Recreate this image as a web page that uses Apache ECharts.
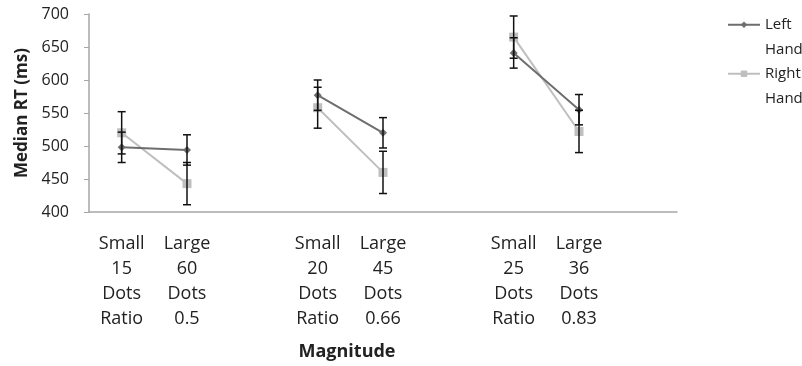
<!DOCTYPE html>
<html>
<head>
<meta charset="utf-8">
<script src="https://cdn.jsdelivr.net/npm/echarts@6/dist/echarts.min.js"></script>
<style>html,body{margin:0;padding:0;background:#fff}#c{width:802px;height:366px}</style>
</head>
<body>
<div id="c"></div>
<script>
var categories = ['Small\n15\nDots\nRatio', 'Large\n60\nDots\n0.5', '',
                  'Small\n20\nDots\nRatio', 'Large\n45\nDots\n0.66', '',
                  'Small\n25\nDots\nRatio', 'Large\n36\nDots\n0.83', ''];
var leftHand  = [498, 494, null, 577, 520, null, 641, 555, null];
var leftErr   = [23, 23, null, 23, 23, null, 23, 23, null];
var rightHand = [520, 443, null, 558, 460, null, 665, 522, null];
var rightErr  = [32, 32, null, 31, 32, null, 32, 32, null];
var yTicks = [400, 450, 500, 550, 600, 650, 700];

function errData(vals, errs) {
  var out = [];
  for (var i = 0; i < vals.length; i++) {
    if (vals[i] != null) out.push([i, vals[i] - errs[i], vals[i] + errs[i]]);
  }
  return out;
}
function renderErr(params, api) {
  var x = api.value(0);
  var lo = api.coord([x, api.value(1)]);
  var hi = api.coord([x, api.value(2)]);
  var w = 4;
  var st = { stroke: '#111', lineWidth: 1.5 };
  return {
    type: 'group',
    children: [
      { type: 'line', shape: { x1: lo[0], y1: lo[1], x2: hi[0], y2: hi[1] }, style: st },
      { type: 'line', shape: { x1: lo[0] - w, y1: lo[1], x2: lo[0] + w, y2: lo[1] }, style: st },
      { type: 'line', shape: { x1: hi[0] - w, y1: hi[1], x2: hi[0] + w, y2: hi[1] }, style: st }
    ]
  };
}

var font = 'Open Sans';
var chart = echarts.init(document.getElementById('c'));
var legendCommon = {
  orient: 'vertical', left: 727, padding: 0, itemWidth: 32, itemHeight: 8, itemGap: 0,
  formatter: function (n) { return '\n' + n.replace(' ', '\n'); },
  textStyle: { fontFamily: font, fontSize: 15, color: '#222', lineHeight: 24.5 }
};
chart.setOption({
  animation: false,
  textStyle: { fontFamily: font },
  legend: [
    Object.assign({}, legendCommon, { top: -12, data: ['Left Hand'] }),
    Object.assign({}, legendCommon, { top: 37, data: ['Right Hand'] })
  ],
  grid: { left: 89, right: 125, top: 14, bottom: 154, containLabel: false },
  xAxis: {
    type: 'category',
    data: categories,
    boundaryGap: true,
    axisLine: { lineStyle: { color: '#a6a6a6', width: 1.5 } },
    axisTick: { show: false },
    axisLabel: { interval: 0, fontFamily: font, fontSize: 18, color: '#222', lineHeight: 25, margin: 19 },
    name: 'Magnitude',
    nameLocation: 'middle',
    nameGap: 131,
    nameTextStyle: { fontFamily: font, fontSize: 18, fontWeight: 'bold', color: '#222', padding: [0, 72, 0, 0] }
  },
  yAxis: {
    type: 'value',
    min: yTicks[0], max: yTicks[yTicks.length - 1], interval: 50,
    splitLine: { show: false },
    axisLine: { show: true, lineStyle: { color: '#a6a6a6', width: 1.5 } },
    axisTick: { show: true, length: 5, lineStyle: { color: '#a6a6a6' } },
    axisLabel: { fontFamily: font, fontSize: 16, color: '#222', margin: 20 },
    name: 'Median RT (ms)',
    nameLocation: 'middle',
    nameGap: 54,
    nameTextStyle: { fontFamily: font, fontSize: 17, fontWeight: 'bold', color: '#222' }
  },
  series: [
    {
      name: 'Left Hand', type: 'line', data: leftHand, z: 3,
      symbol: 'diamond', symbolSize: 8,
      lineStyle: { color: '#6e6e6e', width: 2 },
      itemStyle: { color: '#6e6e6e' }
    },
    {
      name: 'Right Hand', type: 'line', data: rightHand, z: 2,
      symbol: 'rect', symbolSize: 9,
      lineStyle: { color: '#bfbfbf', width: 2 },
      itemStyle: { color: '#bfbfbf' }
    },
    { type: 'custom', name: 'errL', data: errData(leftHand, leftErr), renderItem: renderErr, z: 4, silent: true },
    { type: 'custom', name: 'errR', data: errData(rightHand, rightErr), renderItem: renderErr, z: 4, silent: true }
  ]
});
</script>
</body>
</html>
